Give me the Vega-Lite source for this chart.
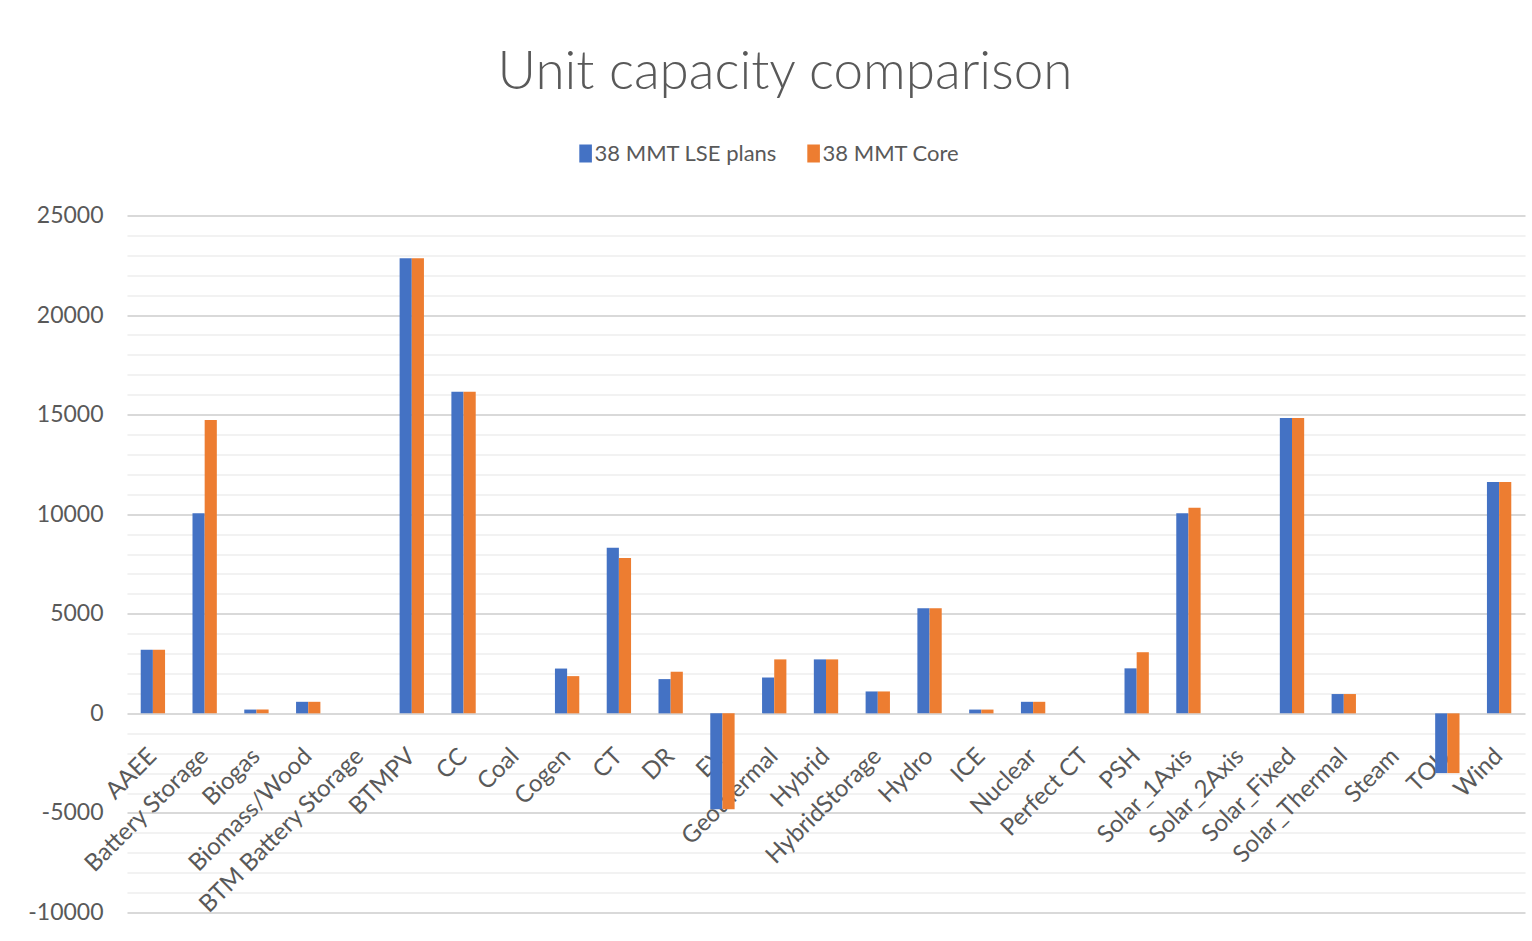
{
  "$schema": "https://vega.github.io/schema/vega-lite/v6.json",
  "width": 1398,
  "height": 697,
  "autosize": "none",
  "padding": {"left": 127, "top": 215.5, "right": 7, "bottom": 28.5},
  "background": "white",
  "config": {"font": "Lato", "view": {"stroke": null}},
  "title": {
    "text": "Unit capacity comparison",
    "font": "Lato",
    "fontSize": 53,
    "fontWeight": 300,
    "color": "#595959",
    "anchor": "middle",
    "dx": -41,
    "offset": 43
  },
  "data": {
    "values": [
      {"category": "AAEE", "series": "38 MMT LSE plans", "value": 3200},
      {"category": "AAEE", "series": "38 MMT Core", "value": 3200},
      {"category": "Battery Storage", "series": "38 MMT LSE plans", "value": 10050},
      {"category": "Battery Storage", "series": "38 MMT Core", "value": 14730},
      {"category": "Biogas", "series": "38 MMT LSE plans", "value": 190},
      {"category": "Biogas", "series": "38 MMT Core", "value": 190},
      {"category": "Biomass/Wood", "series": "38 MMT LSE plans", "value": 580},
      {"category": "Biomass/Wood", "series": "38 MMT Core", "value": 580},
      {"category": "BTM Battery Storage", "series": "38 MMT LSE plans", "value": 0},
      {"category": "BTM Battery Storage", "series": "38 MMT Core", "value": 0},
      {"category": "BTMPV", "series": "38 MMT LSE plans", "value": 22850},
      {"category": "BTMPV", "series": "38 MMT Core", "value": 22850},
      {"category": "CC", "series": "38 MMT LSE plans", "value": 16150},
      {"category": "CC", "series": "38 MMT Core", "value": 16150},
      {"category": "Coal", "series": "38 MMT LSE plans", "value": 0},
      {"category": "Coal", "series": "38 MMT Core", "value": 0},
      {"category": "Cogen", "series": "38 MMT LSE plans", "value": 2250},
      {"category": "Cogen", "series": "38 MMT Core", "value": 1870},
      {"category": "CT", "series": "38 MMT LSE plans", "value": 8320},
      {"category": "CT", "series": "38 MMT Core", "value": 7800},
      {"category": "DR", "series": "38 MMT LSE plans", "value": 1720},
      {"category": "DR", "series": "38 MMT Core", "value": 2090},
      {"category": "EV", "series": "38 MMT LSE plans", "value": -4820},
      {"category": "EV", "series": "38 MMT Core", "value": -4820},
      {"category": "Geothermal", "series": "38 MMT LSE plans", "value": 1800},
      {"category": "Geothermal", "series": "38 MMT Core", "value": 2710},
      {"category": "Hybrid", "series": "38 MMT LSE plans", "value": 2710},
      {"category": "Hybrid", "series": "38 MMT Core", "value": 2710},
      {"category": "HybridStorage", "series": "38 MMT LSE plans", "value": 1100},
      {"category": "HybridStorage", "series": "38 MMT Core", "value": 1100},
      {"category": "Hydro", "series": "38 MMT LSE plans", "value": 5280},
      {"category": "Hydro", "series": "38 MMT Core", "value": 5280},
      {"category": "ICE", "series": "38 MMT LSE plans", "value": 190},
      {"category": "ICE", "series": "38 MMT Core", "value": 190},
      {"category": "Nuclear", "series": "38 MMT LSE plans", "value": 580},
      {"category": "Nuclear", "series": "38 MMT Core", "value": 580},
      {"category": "Perfect CT", "series": "38 MMT LSE plans", "value": 0},
      {"category": "Perfect CT", "series": "38 MMT Core", "value": 0},
      {"category": "PSH", "series": "38 MMT LSE plans", "value": 2260},
      {"category": "PSH", "series": "38 MMT Core", "value": 3070},
      {"category": "Solar_1Axis", "series": "38 MMT LSE plans", "value": 10050},
      {"category": "Solar_1Axis", "series": "38 MMT Core", "value": 10330},
      {"category": "Solar_2Axis", "series": "38 MMT LSE plans", "value": 0},
      {"category": "Solar_2Axis", "series": "38 MMT Core", "value": 0},
      {"category": "Solar_Fixed", "series": "38 MMT LSE plans", "value": 14830},
      {"category": "Solar_Fixed", "series": "38 MMT Core", "value": 14830},
      {"category": "Solar_Thermal", "series": "38 MMT LSE plans", "value": 970},
      {"category": "Solar_Thermal", "series": "38 MMT Core", "value": 970},
      {"category": "Steam", "series": "38 MMT LSE plans", "value": 0},
      {"category": "Steam", "series": "38 MMT Core", "value": 0},
      {"category": "TOU", "series": "38 MMT LSE plans", "value": -3000},
      {"category": "TOU", "series": "38 MMT Core", "value": -3000},
      {"category": "Wind", "series": "38 MMT LSE plans", "value": 11620},
      {"category": "Wind", "series": "38 MMT Core", "value": 11620}
    ]
  },
  "mark": {"type": "bar"},
  "encoding": {
    "x": {
      "field": "category",
      "type": "nominal",
      "sort": null,
      "scale": {"paddingInner": 0.53, "paddingOuter": 0.265},
      "axis": {
        "title": null,
        "labelAngle": -45,
        "labelAlign": "right",
        "labelBaseline": "middle",
        "labelFontSize": 24,
        "labelColor": "#595959",
        "labelPadding": 39,
        "labelLimit": 0,
        "labelOverlap": false,
        "ticks": false,
        "domain": false,
        "offset": -199.14
      }
    },
    "xOffset": {
      "field": "series",
      "type": "nominal",
      "sort": ["38 MMT LSE plans", "38 MMT Core"],
      "scale": {"paddingInner": 0, "paddingOuter": 0}
    },
    "y": {
      "field": "value",
      "type": "quantitative",
      "scale": {"domain": [-10000, 25000], "nice": false, "zero": false},
      "axis": {
        "title": null,
        "values": [-10000, -9000, -8000, -7000, -6000, -5000, -4000, -3000, -2000, -1000, 0, 1000, 2000, 3000, 4000, 5000, 6000, 7000, 8000, 9000, 10000, 11000, 12000, 13000, 14000, 15000, 16000, 17000, 18000, 19000, 20000, 21000, 22000, 23000, 24000, 25000],
        "labelExpr": "datum.value % 5000 === 0 ? toString(datum.value) : ''",
        "labelOverlap": false,
        "labelFontSize": 23,
        "labelColor": "#595959",
        "labelPadding": 24,
        "ticks": false,
        "domain": false,
        "grid": true,
        "gridWidth": 2,
        "gridColor": {"condition": {"test": "datum.value % 5000 === 0", "value": "#d9d9d9"}, "value": "#f2f2f2"}
      }
    },
    "color": {
      "field": "series",
      "type": "nominal",
      "scale": {"domain": ["38 MMT LSE plans", "38 MMT Core"], "range": ["#4472C4", "#ED7D31"]},
      "legend": {
        "title": null,
        "orient": "none",
        "direction": "horizontal",
        "legendX": 447.6,
        "legendY": -73,
        "symbolType": "M-0.7,-1H0.7V1H-0.7Z",
        "symbolSize": 324,
        "symbolStrokeWidth": 0,
        "labelFontSize": 22,
        "labelColor": "#595959",
        "labelOffset": -2,
        "labelLimit": 0,
        "columnPadding": 25,
        "padding": 0
      }
    }
  }
}
